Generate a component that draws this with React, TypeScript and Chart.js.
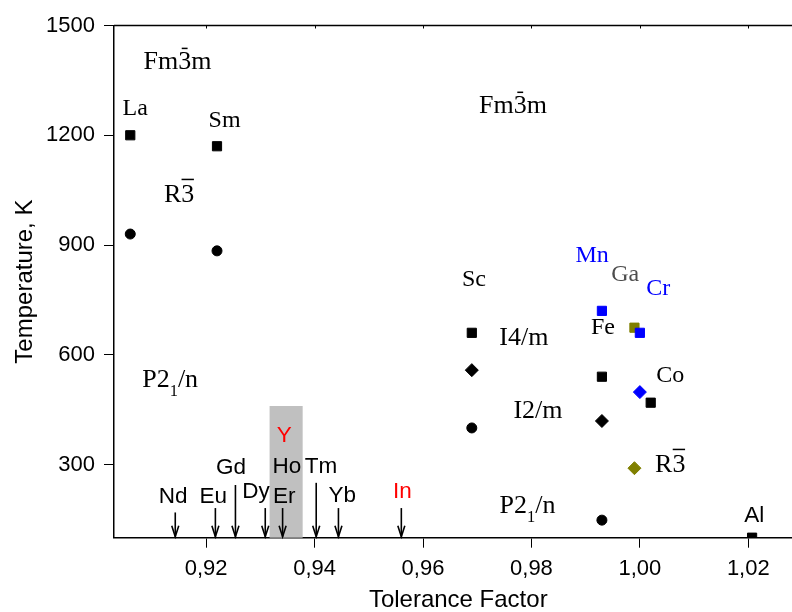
import React, { useEffect, useRef } from 'react';
import { Chart, registerables } from 'chart.js';

Chart.register(...registerables);

// ---------- axis ticks ----------
const xTicks = [0.92, 0.94, 0.96, 0.98, 1.0, 1.02];
const yTicks = [300, 600, 900, 1200, 1500];
const xRange = [0.903, 1.03];
const yRange = [100, 1500];

// ---------- marker series ----------
const blackSquares = [
  { x: 0.906, y: 1200 }, // La
  { x: 0.922, y: 1170 }, // Sm
  { x: 0.969, y: 660 },  // Sc
  { x: 0.993, y: 540 },  // Fe
  { x: 1.002, y: 469 },  // Co
  { x: 1.0207, y: 100 }, // Al
];
const blackCircles = [
  { x: 0.906, y: 930 },
  { x: 0.922, y: 884 },
  { x: 0.969, y: 400 },
  { x: 0.993, y: 148 },
];
const blackDiamonds = [
  { x: 0.969, y: 558 },
  { x: 0.993, y: 419 },
];
const blueSquares = [
  { x: 0.993, y: 720 }, // Mn
  { x: 1.0, y: 660 },   // Cr
];
const blueDiamonds = [{ x: 1.0, y: 498 }]; // Co
const oliveSquares = [{ x: 0.999, y: 674 }]; // Ga
const oliveDiamonds = [{ x: 0.999, y: 290 }]; // Ga

// ---------- element labels (data coords: centre x, baseline y) ----------
const serifLabels = [
  { text: 'La', x: 0.9069, y: 1255, color: '#000000' },
  { text: 'Sm', x: 0.9234, y: 1222, color: '#000000' },
  { text: 'Sc', x: 0.9694, y: 788, color: '#000000' },
  { text: 'Fe', x: 0.9932, y: 657, color: '#000000' },
  { text: 'Ga', x: 0.9973, y: 802, color: '#4d4d4d' },
  { text: 'Mn', x: 0.9912, y: 854, color: '#0000ff' },
  { text: 'Cr', x: 1.0034, y: 763, color: '#0000ff' },
  { text: 'Co', x: 1.0056, y: 526, color: '#000000' },
];
const sansLabels = [
  { text: 'Nd', x: 0.9139, y: 194, color: '#000000' },
  { text: 'Eu', x: 0.9213, y: 194, color: '#000000' },
  { text: 'Gd', x: 0.9246, y: 273, color: '#000000' },
  { text: 'Dy', x: 0.9292, y: 208, color: '#000000' },
  { text: 'Er', x: 0.9344, y: 194, color: '#000000' },
  { text: 'Ho', x: 0.9349, y: 276, color: '#000000' },
  { text: 'Tm', x: 0.9412, y: 276, color: '#000000' },
  { text: 'Yb', x: 0.9451, y: 198, color: '#000000' },
  { text: 'In', x: 0.9562, y: 208, color: '#ff0000' },
  { text: 'Y', x: 0.9344, y: 362, color: '#ff0000' },
  { text: 'Al', x: 1.0211, y: 144, color: '#000000' },
];

// ---------- space group labels ----------
// parts: text pieces; bar = overline on piece ('full' | 'short'); sub = subscript
const spaceGroups = [
  { parts: [{ t: 'Fm' }, { t: '3', bar: 'short' }, { t: 'm' }], x: 0.9147, y: 1380, align: 'center' },
  { parts: [{ t: 'Fm' }, { t: '3', bar: 'short' }, { t: 'm' }], x: 0.9766, y: 1260, align: 'center' },
  { parts: [{ t: 'R' }, { t: '3', bar: 'full' }], x: 0.915, y: 1018, align: 'center' },
  { parts: [{ t: 'R' }, { t: '3', bar: 'full' }], x: 1.0056, y: 280, align: 'center' },
  { parts: [{ t: 'I4/m' }], x: 0.9786, y: 627, align: 'center' },
  { parts: [{ t: 'I2/m' }], x: 0.9812, y: 426, align: 'center' },
  { parts: [{ t: 'P2' }, { t: '1', sub: true }, { t: '/n' }], x: 0.9082, y: 513, align: 'left' },
  { parts: [{ t: 'P2' }, { t: '1', sub: true }, { t: '/n' }], x: 0.9741, y: 167, align: 'left' },
];

// ---------- arrows (tolerance factor, top of shaft) ----------
const arrowX = [0.9143, 0.9217, 0.9254, 0.9309, 0.9341, 0.9403, 0.9444, 0.956];
const arrowTop = [169, 181, 244, 181, 181, 250, 181, 181];

// ---------- grey band ----------
const bandX = [0.9317, 0.9378];
const bandTop = 460;

const SANS = '"Liberation Sans", Arial, sans-serif';
const SERIF = '"Liberation Serif", "Times New Roman", serif';

const annotationPlugin = {
  id: 'annotations',
  beforeDatasetsDraw(chart: any) {
    const { ctx, scales } = chart;
    const xs = scales.x, ys = scales.y;
    ctx.save();
    ctx.fillStyle = '#c0c0c0';
    const x0 = xs.getPixelForValue(bandX[0]);
    const x1 = xs.getPixelForValue(bandX[1]);
    const yt = ys.getPixelForValue(bandTop);
    const yb = ys.getPixelForValue(yRange[0]);
    ctx.fillRect(x0, yt, x1 - x0, yb - yt);
    ctx.restore();
  },
  afterDatasetsDraw(chart: any) {
    const { ctx, scales, chartArea } = chart;
    const xs = scales.x, ys = scales.y;
    ctx.save();

    // top frame line with tiny inner ticks
    ctx.strokeStyle = '#000';
    ctx.lineWidth = 1.5;
    ctx.beginPath();
    ctx.moveTo(chartArea.left, chartArea.top);
    ctx.lineTo(chartArea.right, chartArea.top);
    ctx.stroke();
    ctx.lineWidth = 1;
    xTicks.forEach((v) => {
      const px = Math.round(xs.getPixelForValue(v)) + 0.5;
      ctx.beginPath();
      ctx.moveTo(px, chartArea.top);
      ctx.lineTo(px, chartArea.top + 3);
      ctx.stroke();
    });

    // arrows
    ctx.strokeStyle = '#000';
    ctx.lineWidth = 1.6;
    const yb = ys.getPixelForValue(yRange[0]);
    arrowX.forEach((v, i) => {
      const px = xs.getPixelForValue(v);
      const pt = ys.getPixelForValue(arrowTop[i]);
      ctx.beginPath();
      ctx.moveTo(px, pt);
      ctx.lineTo(px, yb - 1);
      ctx.stroke();
      ctx.beginPath();
      ctx.moveTo(px - 3.5, yb - 12);
      ctx.lineTo(px, yb - 1);
      ctx.lineTo(px + 3.5, yb - 12);
      ctx.stroke();
    });

    ctx.textBaseline = 'alphabetic';
    ctx.textAlign = 'center';

    // sans labels
    ctx.font = `22.5px ${SANS}`;
    sansLabels.forEach((l) => {
      ctx.fillStyle = l.color;
      ctx.fillText(l.text, xs.getPixelForValue(l.x), ys.getPixelForValue(l.y));
    });

    // serif labels
    ctx.font = `24px ${SERIF}`;
    serifLabels.forEach((l) => {
      ctx.fillStyle = l.color;
      ctx.fillText(l.text, xs.getPixelForValue(l.x), ys.getPixelForValue(l.y));
    });

    // space groups
    const size = 26;
    const subSize = 16.5;
    ctx.fillStyle = '#000';
    ctx.textAlign = 'left';
    spaceGroups.forEach((g) => {
      const widths = g.parts.map((p: any) => {
        ctx.font = `${p.sub ? subSize : size}px ${SERIF}`;
        return ctx.measureText(p.t).width;
      });
      const total = widths.reduce((a: number, b: number) => a + b, 0);
      const cx = xs.getPixelForValue(g.x);
      const by = ys.getPixelForValue(g.y);
      let px = g.align === 'center' ? cx - total / 2 : cx;
      g.parts.forEach((p: any, i: number) => {
        ctx.font = `${p.sub ? subSize : size}px ${SERIF}`;
        const yy = p.sub ? by + 9.3 : by;
        ctx.fillText(p.t, px, yy);
        if (p.bar) {
          const w = widths[i];
          const bw = p.bar === 'full' ? w * 0.95 : w * 0.45;
          const bx = px + (w - bw) / 2;
          const barY = p.bar === 'full' ? by - 22.4 : by - 21;
          ctx.fillRect(bx, barY - 0.75, bw, 1.5);
        }
        px += widths[i];
      });
    });

    ctx.restore();
  },
};

export default function App() {
  const canvasRef = useRef<HTMLCanvasElement | null>(null);

  useEffect(() => {
    const canvas = canvasRef.current;
    if (!canvas) return;

    const pt = (data: any[], style: string, color: string, radius: number, extra: any = {}) => ({
      data,
      pointStyle: style,
      pointRadius: radius,
      pointHoverRadius: radius,
      backgroundColor: color,
      borderColor: color,
      pointBorderWidth: 1,
      showLine: false,
      ...extra,
    });

    const chart = new Chart(canvas, {
      type: 'scatter',
      data: {
        datasets: [
          pt(blueSquares, 'rect', '#0000ff', 6.5),
          pt(blueDiamonds, 'rectRot', '#0000ff', 6.5),
          pt(oliveSquares, 'rect', '#808000', 6.5),
          pt(oliveDiamonds, 'rectRot', '#808000', 6.5),
          pt(blackSquares, 'rect', '#000000', 6.5, { clip: 0 }),
          pt(blackCircles, 'circle', '#000000', 5),
          pt(blackDiamonds, 'rectRot', '#000000', 6.5),
        ],
      },
      options: {
        animation: false,
        responsive: false,
        events: [],
        layout: { padding: { top: 25.5, left: 0, right: 17.5, bottom: 0 } },
        plugins: {
          legend: { display: false },
          tooltip: { enabled: false },
          title: { display: false },
        },
        scales: {
          x: {
            type: 'linear',
            position: 'bottom',
            min: xRange[0],
            max: xRange[1],
            afterBuildTicks: (scale: any) => {
              scale.ticks = xTicks.map((v) => ({ value: v }));
            },
            afterFit: (scale: any) => {
              scale.height = 612 - 537.7;
            },
            grid: {
              drawOnChartArea: false,
              drawTicks: true,
              tickLength: 10,
              color: '#000',
              lineWidth: 1,
            },
            border: { display: true, color: '#000', width: 1.5 },
            ticks: {
              color: '#000',
              font: { family: SANS, size: 22 },
              padding: 8,
              maxRotation: 0,
              autoSkip: false,
              callback: (v: any) => Number(v).toFixed(2).replace('.', ','),
            },
            title: {
              display: true,
              text: 'Tolerance Factor',
              color: '#000',
              font: { family: SANS, size: 24, lineHeight: 1.0 },
              padding: { top: 0, bottom: 0 },
            },
          },
          y: {
            type: 'linear',
            position: 'left',
            min: yRange[0],
            max: yRange[1],
            afterBuildTicks: (scale: any) => {
              scale.ticks = yTicks.map((v) => ({ value: v }));
            },
            afterFit: (scale: any) => {
              scale.width = 114;
            },
            grid: {
              drawOnChartArea: false,
              drawTicks: true,
              tickLength: 10,
              color: '#000',
              lineWidth: 1,
            },
            border: { display: true, color: '#000', width: 1.5 },
            ticks: {
              color: '#000',
              font: { family: SANS, size: 22 },
              padding: 9,
              autoSkip: false,
              callback: (v: any) => String(v),
            },
            title: {
              display: true,
              text: 'Temperature, K',
              color: '#000',
              font: { family: SANS, size: 24 },
              padding: { top: 11, bottom: 0 },
            },
          },
        },
      },
      plugins: [annotationPlugin],
    });

    return () => chart.destroy();
  }, []);

  return (
    <div
      style={{
        position: 'absolute',
        left: 0,
        top: 0,
        width: 792,
        height: 612,
        overflow: 'hidden',
        background: '#fff',
      }}
    >
      <canvas ref={canvasRef} width={820} height={612} style={{ display: 'block' }} />
    </div>
  );
}
